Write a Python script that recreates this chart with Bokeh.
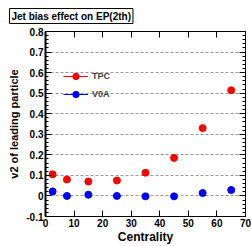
from bokeh.plotting import figure
from bokeh.models import (LinearAxis, FixedTicker, Range1d, Legend, LegendItem,
                          ColumnDataSource, CustomLabelingPolicy)
from bokeh.embed import file_html
from bokeh.resources import INLINE

# ---- data ----
centrality = [2.5, 7.5, 15, 25, 35, 45, 55, 65]
v2_tpc = [0.105, 0.080, 0.070, 0.075, 0.113, 0.185, 0.330, 0.514]
v2_v0a = [0.022, 0.000, 0.006, 0.000, -0.002, -0.002, 0.014, 0.029]

x_ticks = [0, 10, 20, 30, 40, 50, 60, 70]
x_labels = ["0", "10", "20", "30", "40", "50", "60", "70"]
y_ticks = [-0.1, 0.0, 0.1, 0.2, 0.3, 0.4, 0.5, 0.6, 0.7, 0.8]
y_labels = ["-0.1", "0", "0.1", "0.2", "0.3", "0.4", "0.5", "0.6", "0.7", "0.8"]
y_minor = [round(-0.1 + 0.02 * i, 3) for i in range(46)]

title_text = "Jet bias effect on EP(2th)"
x_title = "Centrality"
y_title = "v2 of leading particle"
series_names = ["TPC", "V0A"]
series_colors = ["#ff0000", "#0000ff"]

FONT = "Liberation Sans"
W, H = 251, 246
FL, FT, FW, FH = 45, 31, 200, 187

p = figure(width=W, height=H, output_backend="svg", toolbar_location=None,
           x_range=Range1d(0, 70), y_range=Range1d(-0.1, 0.8),
           min_border_left=FL, min_border_right=W - FL - FW, min_border_top=FT,
           min_border_bottom=H - FT - FH,
           x_axis_location=None, y_axis_location=None)
p.outline_line_color = "black"
p.outline_line_width = 1
p.background_fill_color = "white"
p.border_fill_color = "white"

# title box (ROOT style)
p.title.text = title_text
p.title.text_font = FONT
p.title.text_font_style = "bold"
p.title.text_font_size = "10px"
p.title.text_color = "black"
p.title.align = "left"
p.title.offset = -36
p.title.standoff = 8
p.title.background_fill_color = "white"
p.title.border_line_color = "black"
p.title.border_line_width = 1
p.title.padding = 2

yt = FixedTicker(ticks=y_ticks, minor_ticks=y_minor)
xt = FixedTicker(ticks=x_ticks, minor_ticks=[])


def style_axis(ax, labels):
    ax.major_tick_out = 0
    ax.minor_tick_out = 0
    ax.major_tick_in = 6
    ax.minor_tick_in = 3
    ax.axis_line_color = "black"
    ax.major_tick_line_color = "black"
    ax.minor_tick_line_color = "black"
    if labels:
        ax.major_label_text_font = FONT
        ax.major_label_text_font_style = "bold"
        ax.major_label_text_font_size = "10px"
        ax.major_label_text_color = "black"
        ax.major_label_standoff = 2
        ax.axis_label_text_font = FONT
        ax.axis_label_text_font_style = "bold"
        ax.axis_label_text_color = "black"
    else:
        ax.major_label_text_font_size = "1px"
        ax.major_label_standoff = 0
        ax.major_label_policy = CustomLabelingPolicy(code="return []")


left = LinearAxis(ticker=yt, major_label_overrides=dict(zip(y_ticks, y_labels)),
                  axis_label=y_title)
style_axis(left, True)
left.axis_line_width = 2
left.axis_label_text_font_size = "11px"
left.axis_label_standoff = 3
p.add_layout(left, "left")

right = LinearAxis(ticker=yt)
style_axis(right, False)
p.add_layout(right, "right")

bottom = LinearAxis(ticker=xt, major_label_overrides=dict(zip(x_ticks, x_labels)),
                    axis_label=x_title)
style_axis(bottom, True)
bottom.axis_label_text_font_size = "12px"
bottom.axis_label_standoff = 0
bottom.major_label_standoff = 2
p.add_layout(bottom, "below")

top = LinearAxis(ticker=xt)
style_axis(top, False)
p.add_layout(top, "above")

p.xgrid.visible = False
p.ygrid.ticker = FixedTicker(ticks=y_ticks)
p.ygrid.grid_line_color = "#999999"
p.ygrid.grid_line_dash = "3 2"
p.ygrid.grid_line_width = 1

# an off-screen range so that the legend-key lines are not drawn over the data
p.extra_y_ranges = {"key": Range1d(10, 11)}

legend_items = []
for name, vals, col in zip(series_names, [v2_tpc, v2_v0a], series_colors):
    src = ColumnDataSource(dict(x=centrality, y=vals))
    ln = p.line("x", "y", source=src, line_color=col, line_width=1, y_range_name="key")
    sc = p.scatter("x", "y", source=src, size=7, fill_color=col, line_color=col)
    legend_items.append(LegendItem(label=name, renderers=[ln, sc]))

leg = Legend(items=legend_items, location=(18, 114), glyph_width=25, glyph_height=16,
             label_height=16, spacing=2, padding=0, margin=0, label_standoff=4,
             background_fill_alpha=0, border_line_color=None,
             label_text_font=FONT, label_text_font_style="bold", label_text_font_size="9px")
p.add_layout(leg, "center")

open("out.html", "w").write(file_html(p, INLINE))
